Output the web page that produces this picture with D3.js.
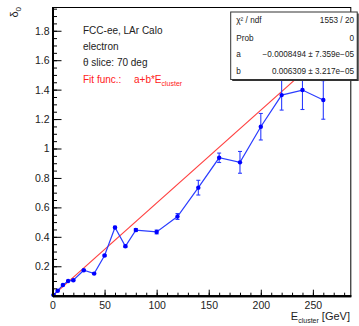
<!DOCTYPE html>
<html><head><meta charset="utf-8">
<script src="https://cdn.jsdelivr.net/npm/d3@7"></script>
<style>body{margin:0;background:#fff}svg{display:block;font-family:"Liberation Sans",Arial,sans-serif}</style>
</head><body><svg id="c" width="359" height="326"></svg>
<script>
const energies = [1, 5, 10, 15, 20, 30, 40, 50, 60, 70, 80, 100, 120, 140, 160, 180, 200, 220, 240, 260];
const delta0   = [0.005, 0.034, 0.073, 0.100, 0.105, 0.173, 0.150, 0.273, 0.463, 0.336, 0.446, 0.433, 0.538, 0.734, 0.937, 0.906, 1.148, 1.363, 1.397, 1.330];
const errors   = [0.002, 0.003, 0.004, 0.004, 0.005, 0.005, 0.005, 0.006, 0.008, 0.008, 0.010, 0.013, 0.020, 0.050, 0.032, 0.074, 0.090, 0.102, 0.132, 0.131];
const fitA = -0.0008494, fitB = 0.006309;
const xMajorTicks = [0, 50, 100, 150, 200, 250];
const yMajorTicks = [0.2, 0.4, 0.6, 0.8, 1, 1.2, 1.4, 1.6, 1.8];
const infoLines = ["FCC-ee, LAr Calo", "electron", "θ slice: 70 deg"];
const statLabels = ["χ² / ndf", "Prob", "a", "b"];
const statValues = ["1553 / 20", "0", "−0.0008494 ± 7.359e−05", "0.006309 ± 3.217e−05"];

const svg = d3.select("#c");
const L = 52.5, R = 350.8, T = 7.5, B = 295.7;
const x = d3.scaleLinear().domain([0, 286.4]).range([L, R]);
const y = d3.scaleLinear().domain([0, 1.958]).range([B, T]);

// frame
svg.append("rect").attr("x", L).attr("y", T).attr("width", R - L).attr("height", B - T)
  .attr("fill", "none").attr("stroke", "#000").attr("stroke-width", 1);

// fit line
const fitX = [0, 286.4];
svg.append("line").attr("x1", x(fitX[0])).attr("y1", y(fitA + fitB * fitX[0]))
  .attr("x2", x(fitX[1])).attr("y2", y(fitA + fitB * fitX[1]))
  .attr("stroke", "#ff4040").attr("stroke-width", 1.2);

// data
const pts = energies.map((e, i) => ({e, v: delta0[i], err: errors[i]}));
svg.append("path").datum(pts)
  .attr("d", d3.line().x(d => x(d.e)).y(d => y(d.v)))
  .attr("fill", "none").attr("stroke", "#2a3cff").attr("stroke-width", 1.2);
const eb = svg.append("g").attr("stroke", "#2a3cff").attr("stroke-width", 1.1);
pts.forEach(d => {
  eb.append("line").attr("x1", x(d.e)).attr("x2", x(d.e)).attr("y1", y(d.v - d.err)).attr("y2", y(d.v + d.err));
  [d.v - d.err, d.v + d.err].forEach(v => eb.append("line").attr("x1", x(d.e) - 2).attr("x2", x(d.e) + 2).attr("y1", y(v)).attr("y2", y(v)));
});
svg.append("g").selectAll("circle").data(pts).join("circle")
  .attr("cx", d => x(d.e)).attr("cy", d => y(d.v)).attr("r", 2.2).attr("fill", "#0000ff");

// axes
const fs = 10.5;
svg.append("g").attr("transform", `translate(${L},0)`)
  .call(d3.axisLeft(y).tickValues(yMajorTicks).tickSizeInner(-9).tickSizeOuter(0).tickPadding(3).tickFormat(d3.format("~g")));
svg.append("g").attr("transform", `translate(${L},0)`)
  .call(d3.axisLeft(y).tickValues(d3.range(0.05, 1.951, 0.05)).tickSizeInner(-4.5).tickSizeOuter(0).tickFormat(""));
const xAx = svg.append("g").attr("transform", `translate(0,${B})`)
  .call(d3.axisBottom(x).tickValues(xMajorTicks).tickSizeInner(-6).tickSizeOuter(0).tickPadding(3).tickFormat(d3.format("d")));
svg.append("g").attr("transform", `translate(0,${B})`)
  .call(d3.axisBottom(x).tickValues(d3.range(10, 281, 10)).tickSizeInner(-3).tickSizeOuter(0).tickFormat(""));
svg.selectAll(".domain").attr("stroke", "#000").attr("stroke-width", 2);
svg.selectAll(".tick line").attr("stroke", "#000").attr("stroke-width", 1);
svg.selectAll(".tick text").attr("font-size", fs).attr("fill", "#222").attr("font-family", "Liberation Sans, Arial, sans-serif");
xAx.selectAll(".tick text").attr("dy", "0.95em");

// axis titles
const yt = svg.append("text").attr("transform", "translate(18,7) rotate(-90)").attr("text-anchor", "end")
  .attr("font-size", 11).attr("fill", "#222");
yt.append("tspan").text("δ");
yt.append("tspan").attr("font-size", 8).attr("dy", 3).text("0");

const xt = svg.append("text").attr("x", 350).attr("y", 320).attr("text-anchor", "end").attr("font-size", 11).attr("fill", "#222");
xt.append("tspan").text("E");
xt.append("tspan").attr("font-size", 7).attr("dy", 3).text("cluster");
xt.append("tspan").attr("dy", -3).text(" [GeV]");

// info text
infoLines.forEach((t, i) => svg.append("text").attr("x", 83).attr("y", [34, 50, 66][i])
  .attr("font-size", 10).attr("fill", "#222").text(t));
const ff = svg.append("text").attr("x", 83).attr("y", 83).attr("font-size", 10).attr("fill", "#ff2020");
ff.append("tspan").text("Fit func.:");
ff.append("tspan").attr("x", 134).text("a+b*E");
ff.append("tspan").attr("font-size", 7).attr("dy", 3).text("cluster");

// stat box
const sb = {x: 230.7, y: 12, w: 126.5, h: 67.5};
svg.append("rect").attr("x", sb.x + 1.5).attr("y", sb.y + 1.5).attr("width", sb.w).attr("height", sb.h).attr("fill", "#333");
svg.append("rect").attr("x", sb.x).attr("y", sb.y).attr("width", sb.w).attr("height", sb.h)
  .attr("fill", "#fff").attr("stroke", "#333").attr("stroke-width", 1);
statLabels.forEach((t, i) => {
  const yy = [23, 40.5, 57, 74][i];
  svg.append("text").attr("x", 236.3).attr("y", yy).attr("font-size", 8.2).attr("fill", "#222").text(t);
  svg.append("text").attr("x", 354).attr("y", yy).attr("text-anchor", "end").attr("font-size", 8.2).attr("fill", "#222").text(statValues[i]);
});
</script></body></html>
